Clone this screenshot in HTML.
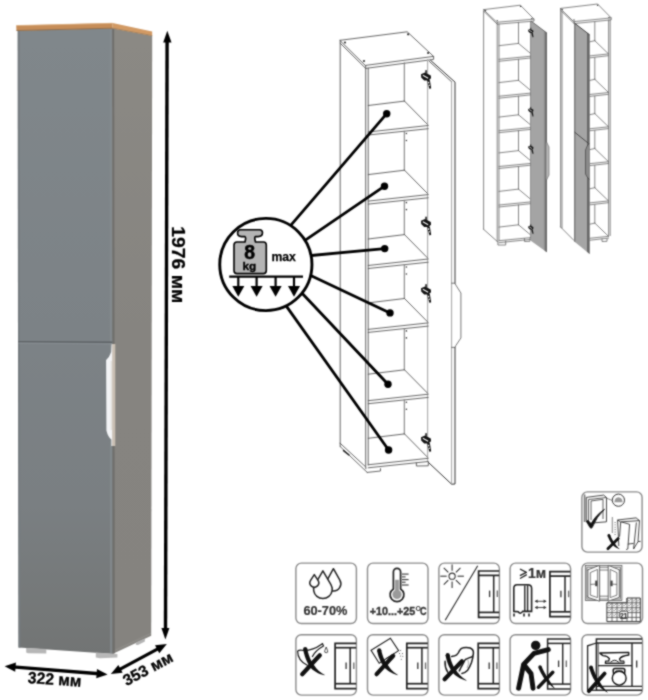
<!DOCTYPE html>
<html><head><meta charset="utf-8">
<style>
html,body{margin:0;padding:0;background:#fff;}
body{width:648px;height:700px;overflow:hidden;position:relative;font-family:"Liberation Sans",sans-serif;}
svg{position:absolute;left:0;top:0;display:block;will-change:transform;}
svg text{font-family:"Liberation Sans",sans-serif;}
</style></head>
<body>
<svg width="648" height="700" viewBox="0 0 648 700">
<defs><filter id="soft" filterUnits="userSpaceOnUse" x="0" y="0" width="648" height="700" color-interpolation-filters="sRGB"><feConvolveMatrix order="3" kernelMatrix="1 2 1 2 8 2 1 2 1" divisor="20" edgeMode="duplicate"/></filter></defs>
<g filter="url(#soft)">
<rect x="0" y="0" width="648" height="700" fill="#fff"/>
<!-- ===== MAIN GRAY CABINET ===== -->
<g id="cab">
  <defs>
    <linearGradient id="gf" x1="0" y1="0" x2="0" y2="1">
      <stop offset="0" stop-color="#80878b"/>
      <stop offset="0.5" stop-color="#7c8286"/>
      <stop offset="0.76" stop-color="#7a7f82"/>
      <stop offset="0.95" stop-color="#747777"/>
      <stop offset="1" stop-color="#727474"/>
    </linearGradient>
    <linearGradient id="gs" x1="0" y1="0" x2="0" y2="1">
      <stop offset="0" stop-color="#8b8984"/>
      <stop offset="0.5" stop-color="#868480"/>
      <stop offset="1" stop-color="#85837f"/>
    </linearGradient>
  </defs>
  <polygon points="17.5,30.6 112.3,28.3 113.6,654 18.5,647.6" fill="url(#gf)"/>
  <polygon points="112.3,28.3 152.2,35.8 151.2,635.8 113.6,653.6" fill="url(#gs)"/>
  <line x1="114.6" y1="650.6" x2="151" y2="633.4" stroke="#959490" stroke-width="0.8"/>
  <polygon points="109.6,28.4 112.1,28.3 112.4,654 110,653.8" fill="#848b8f" opacity="0.8"/>
  <polygon points="112.1,28.3 114.2,28.7 114.8,653.2 112.6,654" fill="#6f6e6b"/>
  <polygon points="18,30.6 19.6,30.6 20.4,647.7 18.5,647.6" fill="#767c80"/>
  <polygon points="16.2,25.4 112.6,23.1 112.6,28.4 16.5,30.8" fill="#c68d58"/>
  <polygon points="112.6,23.1 152.2,31.5 152.2,35.9 112.6,28.4" fill="#d29a64"/>
  <line x1="16.4" y1="25.6" x2="112.6" y2="23.3" stroke="#dcae80" stroke-width="0.8"/>
  <line x1="16.5" y1="30.5" x2="112.6" y2="28.2" stroke="#8d6b4a" stroke-width="0.9"/>
  <line x1="112.6" y1="28.2" x2="152.2" y2="35.6" stroke="#9b7a58" stroke-width="0.7"/>
  <!-- door split -->
  <line x1="18.3" y1="341.6" x2="112.3" y2="342.3" stroke="#5d6265" stroke-width="1.4"/>
  <line x1="18.3" y1="343.2" x2="112.3" y2="343.9" stroke="#8a9195" stroke-width="0.8"/>
  <!-- handle -->
  <rect x="111.9" y="344" width="3.4" height="102" fill="#c9bfb3"/>
  <path d="M111.6,344.2 L112.2,344.2 L112.2,446 L111.4,446 L111.4,439.6 Q108,437 106.4,430.4 L106.1,360.1 Q109.5,357 111.2,352 Z" fill="#f3f4f6"/>
  <path d="M110.6,361 L111.9,361 L111.9,430 L110.6,430 Z" fill="#e2e0dc"/>
  <!-- feet -->
  <polygon points="26.2,647.9 46.3,649.1 46.3,653.6 28,653.2 26.2,652.4" fill="#b6b6b6"/>
  <polygon points="95.8,652.4 117.4,654 117.4,657.5 100,658.3 95.8,657.6" fill="#b8b8b8"/>
  <polygon points="135.8,642.5 144.9,638.6 144.9,641.6 138,645.1 135.8,644.8" fill="#b3b3b3"/>
</g>
<!-- ===== DIMENSION ARROWS ===== -->
<g id="dims" fill="#000">
  <line x1="167.1" y1="40" x2="165.5" y2="630" stroke="#000" stroke-width="3.4"/>
  <polygon points="167.3,30.8 171.5,42.6 163.2,42.6"/>
  <polygon points="165.4,639.6 169.4,627.9 161.4,627.9"/>
  <text transform="translate(171.6,226.2) rotate(90) scale(1.1,1)" font-size="17.6" font-weight="bold" stroke="#000" stroke-width="0.25">1976 мм</text>
  <!-- 322 -->
  <g transform="translate(4.6,666.3) rotate(4.5)">
    <line x1="8" y1="0" x2="95" y2="0" stroke="#000" stroke-width="3.4"/>
    <polygon points="0,0 11,-4.6 11,4.6"/>
    <polygon points="103.3,0 92.3,-4.6 92.3,4.6"/>
  </g>
  <text transform="translate(27.6,683.0) rotate(4)" font-size="16.2" font-weight="bold" stroke="#000" stroke-width="0.3" textLength="53.5" lengthAdjust="spacingAndGlyphs">322 мм</text>
  <!-- 353 -->
  <g transform="translate(110.8,674.1) rotate(-28.2)">
    <line x1="8" y1="0" x2="56" y2="0" stroke="#000" stroke-width="3.2"/>
    <polygon points="0,0 11,-4.5 11,4.5"/>
    <polygon points="63.6,0 52.6,-4.5 52.6,4.5"/>
  </g>
  <text transform="translate(126.6,686.2) rotate(-28)" font-size="15.8" font-weight="bold" stroke="#000" stroke-width="0.3">353 мм</text>
</g>
<!-- CENTER START -->
<g stroke="#555" stroke-width="0.9" fill="none" stroke-linejoin="round" stroke-linecap="round">
<polygon points="340.2,40.3 407.2,31.8 433.6,56.4 365.7,65.4" />
<polyline points="365.7,65.4 365.7,68.4 433.6,59.4 433.6,56.4" />
<polyline points="340.2,40.3 340.2,43.2 365.7,68.4" />
<line x1="340.2" y1="43.2" x2="340.2" y2="443.3" />
<line x1="365.7" y1="68.4" x2="365.7" y2="466.0" />
<line x1="368.2" y1="68.1" x2="368.2" y2="465.0" />
<line x1="340.2" y1="443.3" x2="365.8" y2="467.0" />
<line x1="340.2" y1="443.3" x2="340.2" y2="446.6" />
<line x1="340.2" y1="446.6" x2="367.2" y2="472.4" />
<line x1="343.5" y1="450.6" x2="348.9" y2="454.9" stroke="#222" stroke-width="1.4"/>
<line x1="427.6" y1="59.6" x2="427.6" y2="461.0" stroke="#aaa" stroke-width="1.1"/>
<line x1="404.3" y1="62.8" x2="404.3" y2="101.1" stroke="#777" stroke-width="1.0"/>
<line x1="368.2" y1="105.5" x2="404.5" y2="101.1" />
<line x1="404.5" y1="101.1" x2="427.2" y2="124.1" />
<line x1="368.2" y1="132.0" x2="428.2" y2="125.5" />
<line x1="368.2" y1="135.0" x2="428.2" y2="128.7" />
<line x1="404.3" y1="131.2" x2="404.3" y2="170.2" stroke="#777" stroke-width="1.0"/>
<line x1="368.2" y1="174.6" x2="404.5" y2="170.2" />
<line x1="404.5" y1="170.2" x2="427.2" y2="193.2" />
<line x1="368.2" y1="201.1" x2="428.2" y2="194.6" />
<line x1="368.2" y1="204.1" x2="428.2" y2="197.8" />
<line x1="404.3" y1="200.3" x2="404.3" y2="234.6" stroke="#777" stroke-width="1.0"/>
<line x1="368.2" y1="239.0" x2="404.5" y2="234.6" />
<line x1="404.5" y1="234.6" x2="427.2" y2="257.6" />
<line x1="368.2" y1="265.5" x2="428.2" y2="259.0" />
<line x1="368.2" y1="268.5" x2="428.2" y2="262.2" />
<line x1="404.3" y1="264.7" x2="404.3" y2="298.5" stroke="#777" stroke-width="1.0"/>
<line x1="368.2" y1="302.9" x2="404.5" y2="298.5" />
<line x1="404.5" y1="298.5" x2="427.2" y2="321.5" />
<line x1="368.2" y1="329.4" x2="428.2" y2="322.9" />
<line x1="368.2" y1="332.4" x2="428.2" y2="326.1" />
<line x1="404.3" y1="328.6" x2="404.3" y2="369.8" stroke="#777" stroke-width="1.0"/>
<line x1="368.2" y1="374.2" x2="404.5" y2="369.8" />
<line x1="404.5" y1="369.8" x2="427.2" y2="392.8" />
<line x1="368.2" y1="400.7" x2="428.2" y2="394.2" />
<line x1="368.2" y1="403.7" x2="428.2" y2="397.4" />
<line x1="404.3" y1="399.9" x2="404.3" y2="433.9" stroke="#777" stroke-width="1.0"/>
<line x1="368.2" y1="438.3" x2="404.5" y2="433.9" />
<line x1="404.5" y1="433.9" x2="427.2" y2="456.9" />
<line x1="368.2" y1="464.8" x2="428.2" y2="458.3" />
<line x1="368.2" y1="467.8" x2="428.2" y2="461.5" />
<polyline points="367.2,472.4 380.5,471.0 380.5,468.6" />
<line x1="365.8" y1="467.0" x2="365.8" y2="468.8" />
<polyline points="416.4,462.8 416.4,466.0 428.3,465.8 428.3,462.0" />
<polyline points="455.0,283.2 455.0,82.1 430.7,60.4" stroke="#333" stroke-width="1.0"/>
<polyline points="455.0,347.4 455.0,484.0 451.6,484.2 428.6,462.6" stroke="#333" stroke-width="1.0"/>
<line x1="429.3" y1="61.4" x2="451.6" y2="81.8" />
<line x1="451.6" y1="81.8" x2="451.6" y2="484.0" stroke="#999" stroke-width="0.9"/>
<polyline points="451.6,283.2 455.0,283.2 455.8,285.0 460.9,293.0 460.9,338.0 455.8,345.6 455.0,347.4 451.6,347.4" stroke="#555" stroke-width="0.8"/>
</g>
<g transform="translate(421,70)"><rect x="4.3" y="0.2" width="1.5" height="3.5" fill="#111"/><polygon points="0,4.2 4,2.6 9.8,5.4 10,8.2 7.4,10.6 3.2,10.4 0.2,7.4" fill="#111"/><polygon points="6.2,10 8.8,10 10.2,18.2 8.6,19 6.8,14" fill="#111"/><line x1="1.8" y1="5.2" x2="7.2" y2="8.2" stroke="#fff" stroke-width="1.1"/><rect x="6.9" y="11.8" width="1.3" height="1.6" fill="#fff"/><rect x="7.6" y="14.6" width="1.2" height="1.4" fill="#fff"/></g>
<g transform="translate(421,216.5)"><rect x="4.3" y="0.2" width="1.5" height="3.5" fill="#111"/><polygon points="0,4.2 4,2.6 9.8,5.4 10,8.2 7.4,10.6 3.2,10.4 0.2,7.4" fill="#111"/><polygon points="6.2,10 8.8,10 10.2,18.2 8.6,19 6.8,14" fill="#111"/><line x1="1.8" y1="5.2" x2="7.2" y2="8.2" stroke="#fff" stroke-width="1.1"/><rect x="6.9" y="11.8" width="1.3" height="1.6" fill="#fff"/><rect x="7.6" y="14.6" width="1.2" height="1.4" fill="#fff"/></g>
<g transform="translate(421,284)"><rect x="4.3" y="0.2" width="1.5" height="3.5" fill="#111"/><polygon points="0,4.2 4,2.6 9.8,5.4 10,8.2 7.4,10.6 3.2,10.4 0.2,7.4" fill="#111"/><polygon points="6.2,10 8.8,10 10.2,18.2 8.6,19 6.8,14" fill="#111"/><line x1="1.8" y1="5.2" x2="7.2" y2="8.2" stroke="#fff" stroke-width="1.1"/><rect x="6.9" y="11.8" width="1.3" height="1.6" fill="#fff"/><rect x="7.6" y="14.6" width="1.2" height="1.4" fill="#fff"/></g>
<g transform="translate(421,433)"><rect x="4.3" y="0.2" width="1.5" height="3.5" fill="#111"/><polygon points="0,4.2 4,2.6 9.8,5.4 10,8.2 7.4,10.6 3.2,10.4 0.2,7.4" fill="#111"/><polygon points="6.2,10 8.8,10 10.2,18.2 8.6,19 6.8,14" fill="#111"/><line x1="1.8" y1="5.2" x2="7.2" y2="8.2" stroke="#fff" stroke-width="1.1"/><rect x="6.9" y="11.8" width="1.3" height="1.6" fill="#fff"/><rect x="7.6" y="14.6" width="1.2" height="1.4" fill="#fff"/></g>
<circle cx="406.4" cy="133.5" r="0.8" fill="#333"/>
<circle cx="406.4" cy="140.5" r="0.8" fill="#333"/>
<circle cx="406.4" cy="202.6" r="0.8" fill="#333"/>
<circle cx="406.4" cy="209.6" r="0.8" fill="#333"/>
<circle cx="406.4" cy="267.0" r="0.8" fill="#333"/>
<circle cx="406.4" cy="274.0" r="0.8" fill="#333"/>
<circle cx="406.4" cy="330.9" r="0.8" fill="#333"/>
<circle cx="406.4" cy="337.9" r="0.8" fill="#333"/>
<circle cx="406.4" cy="402.2" r="0.8" fill="#333"/>
<circle cx="406.4" cy="409.2" r="0.8" fill="#333"/>
<circle cx="345" cy="42.5" r="1.1" fill="#333"/>
<circle cx="408.1" cy="34.3" r="1.1" fill="#333"/>
<circle cx="428.1" cy="53" r="1.1" fill="#333"/>
<circle cx="364" cy="61" r="1.1" fill="#333"/>

<!-- pointer lines -->
<g stroke="#000" stroke-width="2.8" stroke-linecap="round">
  <line x1="287.5" y1="229.2" x2="386.7" y2="113.7"/>
  <line x1="301.3" y1="242.8" x2="384.5" y2="186.2"/>
  <line x1="306.0" y1="256.0" x2="384.7" y2="248.6"/>
  <line x1="307.5" y1="274.0" x2="390" y2="312.9"/>
  <line x1="300.2" y1="291.3" x2="388" y2="384.3"/>
  <line x1="283.5" y1="302.1" x2="388.6" y2="450"/>
</g>
<g fill="#000">
  <circle cx="386.7" cy="113.7" r="3.7"/>
  <circle cx="384.5" cy="186.2" r="3.7"/>
  <circle cx="384.7" cy="248.6" r="3.7"/>
  <circle cx="390" cy="312.9" r="3.7"/>
  <circle cx="388" cy="384.3" r="3.7"/>
  <circle cx="388.6" cy="450" r="3.7"/>
</g>
<!-- weight circle -->
<circle cx="265.85" cy="264.5" r="46.1" fill="#fff" stroke="#000" stroke-width="2.9"/>
<path d="M240.5,229.8 L259.5,229.8 Q262.5,229.8 262.5,232.8 Q262.5,236.6 258,236.6 L255.5,236.6 Q254.5,237 254.8,239 L255.5,242 L263.5,242 Q266.3,242 266.3,245 L266.3,270.5 Q266.3,273.6 263.3,273.6 L237,273.6 Q234,273.6 234,270.5 L234,245 Q234,242 237,242 L245,242 L245.6,239 Q245.8,237 244.8,236.6 L241.5,236.6 Q237.6,236.6 237.6,233 Q237.6,229.8 240.5,229.8 Z" fill="#b4b4b4" stroke="#000" stroke-width="1.6" stroke-linejoin="round"/>
<text x="249.6" y="259.2" font-size="19.4" font-weight="bold" text-anchor="middle" stroke="#000" stroke-width="0.5">8</text>
<text x="249.4" y="270.4" font-size="11.8" font-weight="bold" text-anchor="middle" stroke="#000" stroke-width="0.35">kg</text>
<text x="271.4" y="260.8" font-size="12.2" font-weight="bold" stroke="#000" stroke-width="0.25">max</text>
<line x1="229.2" y1="276.6" x2="303" y2="276.6" stroke="#000" stroke-width="2.4"/>
<g stroke="#000" stroke-width="2.2">
  <line x1="238.3" y1="276.6" x2="238.3" y2="287"/>
  <line x1="256.6" y1="276.6" x2="256.6" y2="287"/>
  <line x1="275.6" y1="276.6" x2="275.6" y2="287"/>
  <line x1="294" y1="276.6" x2="294" y2="287"/>
</g>
<g fill="#000">
  <polygon points="232.3,286 244.3,286 238.3,296.8"/>
  <polygon points="250.6,286 262.6,286 256.6,296.8"/>
  <polygon points="269.6,286 281.6,286 275.6,296.8"/>
  <polygon points="288,286 300,286 294,296.8"/>
</g>

<!-- CENTER END -->
<!-- SMALL START -->
<g stroke="#666" stroke-width="0.8" fill="none" stroke-linejoin="round" stroke-linecap="round">
<polygon points="483.9,9.6 520.4,5.2 534.0,19.1 497.2,22.2" />
<polyline points="497.2,22.2 497.2,24.2 534.0,21.1 534.0,19.1" />
<polyline points="483.9,9.6 483.9,11.4 497.2,24.2" />
<line x1="483.6" y1="11.4" x2="483.6" y2="229.3" />
<line x1="497.2" y1="24.2" x2="497.2" y2="241.4" />
<line x1="499.0" y1="24.0" x2="499.0" y2="240.5" />
<line x1="483.6" y1="229.3" x2="497.2" y2="241.4" />
<line x1="530.6" y1="21.3" x2="530.6" y2="238.0" />
<line x1="518.5" y1="22.3" x2="518.5" y2="43.4" />
<line x1="499.0" y1="45.7" x2="518.5" y2="43.4" />
<line x1="518.5" y1="43.4" x2="530.0" y2="53.0" />
<line x1="499.0" y1="59.3" x2="530.6" y2="56.2" />
<line x1="499.0" y1="61.3" x2="530.6" y2="58.0" />
<line x1="518.5" y1="59.3" x2="518.5" y2="80.3" />
<line x1="499.0" y1="82.6" x2="518.5" y2="80.3" />
<line x1="518.5" y1="80.3" x2="530.0" y2="89.9" />
<line x1="499.0" y1="96.2" x2="530.6" y2="93.1" />
<line x1="499.0" y1="98.2" x2="530.6" y2="94.9" />
<line x1="518.5" y1="96.2" x2="518.5" y2="114.8" />
<line x1="499.0" y1="117.1" x2="518.5" y2="114.8" />
<line x1="518.5" y1="114.8" x2="530.0" y2="124.4" />
<line x1="499.0" y1="130.7" x2="530.6" y2="127.6" />
<line x1="499.0" y1="132.7" x2="530.6" y2="129.4" />
<line x1="518.5" y1="130.7" x2="518.5" y2="150.6" />
<line x1="499.0" y1="152.9" x2="518.5" y2="150.6" />
<line x1="518.5" y1="150.6" x2="530.0" y2="160.2" />
<line x1="499.0" y1="166.5" x2="530.6" y2="163.4" />
<line x1="499.0" y1="168.5" x2="530.6" y2="165.2" />
<line x1="518.5" y1="166.5" x2="518.5" y2="189.1" />
<line x1="499.0" y1="191.4" x2="518.5" y2="189.1" />
<line x1="518.5" y1="189.1" x2="530.0" y2="198.7" />
<line x1="499.0" y1="205.0" x2="530.6" y2="201.9" />
<line x1="499.0" y1="207.0" x2="530.6" y2="203.7" />
<line x1="518.5" y1="205.0" x2="518.5" y2="224.8" />
<line x1="499.0" y1="227.1" x2="518.5" y2="224.8" />
<line x1="518.5" y1="224.8" x2="530.0" y2="234.4" />
<line x1="499.0" y1="240.7" x2="530.6" y2="237.6" />
<line x1="499.0" y1="242.7" x2="530.6" y2="239.4" />
<polyline points="497.9,241.5 497.9,245.0 505.7,245.0 505.7,241.0" />
<polyline points="524.5,238.5 524.5,241.5 530.0,241.3 530.0,238.2" />
</g>
<polygon points="531.0,21.0 546.9,33.0 546.9,252.2 530.8,240.7" fill="#a4a4a4"/>
<polygon points="543.9,30.8 545.5,32.0 545.5,251.2 543.9,250.1" fill="#8c8c8c"/>
<polygon points="545.4,31.9 546.9,33.0 546.9,252.2 545.4,251.2" fill="#5e5e5e"/>
<line x1="531.0" y1="21.0" x2="546.9" y2="33.0" stroke="#444" stroke-width="0.7"/>
<polyline points="546.4,141.5 547.5,144.0 549.0,147.0 549.0,175.0 547.5,178.0 546.4,180.5" fill="#bdbdbd" stroke="#555" stroke-width="0.6"/>
<g transform="translate(528.2,27.6) scale(0.52)"><rect x="4.3" y="0.2" width="1.5" height="3.5" fill="#111"/><polygon points="0,4.2 4,2.6 9.8,5.4 10,8.2 7.4,10.6 3.2,10.4 0.2,7.4" fill="#111"/><polygon points="6.2,10 8.8,10 10.2,18.2 8.6,19 6.8,14" fill="#111"/><line x1="1.8" y1="5.2" x2="7.2" y2="8.2" stroke="#fff" stroke-width="1.3"/></g>
<g transform="translate(528.2,106.8) scale(0.52)"><rect x="4.3" y="0.2" width="1.5" height="3.5" fill="#111"/><polygon points="0,4.2 4,2.6 9.8,5.4 10,8.2 7.4,10.6 3.2,10.4 0.2,7.4" fill="#111"/><polygon points="6.2,10 8.8,10 10.2,18.2 8.6,19 6.8,14" fill="#111"/><line x1="1.8" y1="5.2" x2="7.2" y2="8.2" stroke="#fff" stroke-width="1.3"/></g>
<g transform="translate(528.2,144.2) scale(0.52)"><rect x="4.3" y="0.2" width="1.5" height="3.5" fill="#111"/><polygon points="0,4.2 4,2.6 9.8,5.4 10,8.2 7.4,10.6 3.2,10.4 0.2,7.4" fill="#111"/><polygon points="6.2,10 8.8,10 10.2,18.2 8.6,19 6.8,14" fill="#111"/><line x1="1.8" y1="5.2" x2="7.2" y2="8.2" stroke="#fff" stroke-width="1.3"/></g>
<g transform="translate(528.2,224.2) scale(0.52)"><rect x="4.3" y="0.2" width="1.5" height="3.5" fill="#111"/><polygon points="0,4.2 4,2.6 9.8,5.4 10,8.2 7.4,10.6 3.2,10.4 0.2,7.4" fill="#111"/><polygon points="6.2,10 8.8,10 10.2,18.2 8.6,19 6.8,14" fill="#111"/><line x1="1.8" y1="5.2" x2="7.2" y2="8.2" stroke="#fff" stroke-width="1.3"/></g>
<circle cx="485.6" cy="10.6" r="0.7" fill="#333"/>
<circle cx="520.6" cy="6.4" r="0.7" fill="#333"/>
<circle cx="531.8" cy="18.6" r="0.7" fill="#333"/>
<circle cx="497.2" cy="20.6" r="0.7" fill="#333"/>
<circle cx="562.2" cy="9.4" r="0.7" fill="#333"/>
<circle cx="597.6" cy="5.2" r="0.7" fill="#333"/>
<circle cx="609" cy="17.4" r="0.7" fill="#333"/>
<circle cx="574" cy="20" r="0.7" fill="#333"/>
<g stroke="#666" stroke-width="0.8" fill="none" stroke-linejoin="round" stroke-linecap="round">
<polygon points="560.6,8.4 597.6,4.0 611.2,17.9 574.1,21.6" />
<polyline points="574.1,21.6 574.1,23.6 611.2,19.9 611.2,17.9" />
<polyline points="560.6,8.4 560.6,10.2 574.1,23.6" />
<line x1="560.6" y1="10.2" x2="560.6" y2="227.0" />
<line x1="562.0" y1="11.5" x2="562.0" y2="228.0" />
<line x1="560.6" y1="227.0" x2="573.9" y2="240.4" />
<line x1="608.6" y1="20.0" x2="608.6" y2="236.0" />
<line x1="610.2" y1="19.9" x2="610.2" y2="235.6" />
<line x1="594.8" y1="22.0" x2="594.8" y2="40.7" />
<line x1="589.3" y1="41.9" x2="594.8" y2="40.7" />
<line x1="594.8" y1="40.7" x2="608.3" y2="53.7" />
<line x1="589.3" y1="55.9" x2="608.6" y2="53.9" />
<line x1="589.3" y1="57.9" x2="608.6" y2="55.7" />
<line x1="594.8" y1="57.7" x2="594.8" y2="79.3" />
<line x1="589.3" y1="80.5" x2="594.8" y2="79.3" />
<line x1="594.8" y1="79.3" x2="608.3" y2="92.3" />
<line x1="589.3" y1="94.5" x2="608.6" y2="92.5" />
<line x1="589.3" y1="96.5" x2="608.6" y2="94.3" />
<line x1="594.8" y1="96.3" x2="594.8" y2="113.6" />
<line x1="589.3" y1="114.8" x2="594.8" y2="113.6" />
<line x1="594.8" y1="113.6" x2="608.3" y2="126.6" />
<line x1="589.3" y1="128.8" x2="608.6" y2="126.8" />
<line x1="589.3" y1="130.8" x2="608.6" y2="128.6" />
<line x1="594.8" y1="130.6" x2="594.8" y2="148.5" />
<line x1="589.3" y1="149.7" x2="594.8" y2="148.5" />
<line x1="594.8" y1="148.5" x2="608.3" y2="161.5" />
<line x1="589.3" y1="163.7" x2="608.6" y2="161.7" />
<line x1="589.3" y1="165.7" x2="608.6" y2="163.5" />
<line x1="594.8" y1="165.5" x2="594.8" y2="187.7" />
<line x1="589.3" y1="188.9" x2="594.8" y2="187.7" />
<line x1="594.8" y1="187.7" x2="608.3" y2="200.7" />
<line x1="589.3" y1="202.9" x2="608.6" y2="200.9" />
<line x1="589.3" y1="204.9" x2="608.6" y2="202.7" />
<line x1="594.8" y1="204.7" x2="594.8" y2="223.1" />
<line x1="589.3" y1="224.3" x2="594.8" y2="223.1" />
<line x1="594.8" y1="223.1" x2="608.3" y2="236.1" />
<line x1="589.3" y1="238.3" x2="608.6" y2="236.3" />
<line x1="589.3" y1="240.3" x2="608.6" y2="238.1" />
<polyline points="602.0,239.0 602.0,241.5 607.0,241.3 607.0,238.8" />
</g>
<polygon points="574.1,22.8 589.6,34.8 589.6,253.9 574.0,241.2" fill="#a5a5a5"/>
<polygon points="574.1,22.8 575.5,23.9 575.4,242.3 574.0,241.2" fill="#7c7c7c"/>
<polygon points="587.0,32.8 589.6,34.8 589.6,253.9 587.0,251.8" fill="#686868"/>
<line x1="574.1" y1="22.8" x2="589.6" y2="34.8" stroke="#333" stroke-width="0.9"/>
<polyline points="574.5,132.1 587.9,142.9" stroke="#222" stroke-width="0.7" fill="none"/>
<polyline points="589.3,143.0 587.2,146.0 585.5,150.0 585.5,174.0 587.2,177.0 589.3,179.5" fill="#8a8a8a" stroke="#333" stroke-width="0.6"/>

<!-- SMALL END -->
<!-- ICONS START -->
<rect x="295.9" y="563.1" width="60.5" height="60.4" rx="5.5" fill="#fff" stroke="#8c8c8c" stroke-width="1.4"/>
<rect x="367.5" y="563.1" width="60.5" height="60.4" rx="5.5" fill="#fff" stroke="#8c8c8c" stroke-width="1.4"/>
<rect x="438.9" y="563.1" width="60.5" height="60.4" rx="5.5" fill="#fff" stroke="#8c8c8c" stroke-width="1.4"/>
<rect x="510.1" y="563.1" width="60.5" height="60.4" rx="5.5" fill="#fff" stroke="#8c8c8c" stroke-width="1.4"/>
<rect x="582.0" y="563.1" width="60.5" height="60.4" rx="5.5" fill="#fff" stroke="#8c8c8c" stroke-width="1.4"/>
<rect x="295.9" y="634.7" width="60.5" height="60.4" rx="5.5" fill="#fff" stroke="#8c8c8c" stroke-width="1.4"/>
<rect x="367.5" y="634.7" width="60.5" height="60.4" rx="5.5" fill="#fff" stroke="#8c8c8c" stroke-width="1.4"/>
<rect x="438.9" y="634.7" width="60.5" height="60.4" rx="5.5" fill="#fff" stroke="#8c8c8c" stroke-width="1.4"/>
<rect x="510.1" y="634.7" width="60.5" height="60.4" rx="5.5" fill="#fff" stroke="#8c8c8c" stroke-width="1.4"/>
<rect x="582.0" y="634.7" width="60.5" height="60.4" rx="5.5" fill="#fff" stroke="#8c8c8c" stroke-width="1.4"/>
<rect x="581.9" y="491.9" width="60.2" height="60.2" rx="5.5" fill="#fff" stroke="#8c8c8c" stroke-width="1.4"/>
<path d="M333.40,568.70 L327.14,580.02 A7.3,7.3 0 1 0 339.86,580.02 Z" fill="#fff" stroke="#222" stroke-width="1.5" stroke-linejoin="round"/>
<path d="M322.90,570.90 L314.88,584.60 A9.3,9.3 0 1 0 330.92,584.60 Z" fill="#fff" stroke="#222" stroke-width="1.5" stroke-linejoin="round"/>
<path d="M314.30,574.60 L310.59,580.44 A4.4,4.4 0 1 0 318.01,580.44 Z" fill="#fff" stroke="#222" stroke-width="1.5" stroke-linejoin="round"/>
<text x="303.4" y="615.2" font-size="12.6" font-family="Liberation Sans" font-weight="bold" fill="#333" stroke="#333" stroke-width="0.2" textLength="44" lengthAdjust="spacingAndGlyphs">60-70%</text>
<path d="M393.4,588.9 L393.4,572.0 A3.6,3.6 0 0 1 400.6,572.0 L400.6,588.9 A6.9,6.9 0 1 1 393.4,588.9 Z" fill="#fff" stroke="#222" stroke-width="1.7"/>
<rect x="395.1" y="579.8" width="3.8" height="12" fill="#9a9a9a"/>
<circle cx="397.0" cy="594.4" r="4.6" fill="#9a9a9a"/>
<line x1="402.0" y1="574.1" x2="408.6" y2="574.1" stroke="#333" stroke-width="1.1"/>
<line x1="402.0" y1="576.9" x2="405.6" y2="576.9" stroke="#333" stroke-width="1.1"/>
<line x1="402.0" y1="579.6" x2="408.6" y2="579.6" stroke="#333" stroke-width="1.1"/>
<line x1="402.0" y1="582.2" x2="405.6" y2="582.2" stroke="#333" stroke-width="1.1"/>
<line x1="402.0" y1="585.0" x2="408.6" y2="585.0" stroke="#333" stroke-width="1.1"/>
<text x="369.8" y="614.5" font-size="10.8" font-family="Liberation Sans" font-weight="bold" fill="#333" stroke="#333" stroke-width="0.35" textLength="45.5" lengthAdjust="spacingAndGlyphs">+10...+25</text>
<text x="415.4" y="610.8" font-size="7" font-family="Liberation Sans" font-weight="bold" fill="#333">O</text>
<text x="420.0" y="614.5" font-size="11.2" font-family="Liberation Sans" font-weight="bold" fill="#333" stroke="#333" stroke-width="0.35" textLength="6.6" lengthAdjust="spacingAndGlyphs">C</text>
<circle cx="452.1" cy="576.2" r="3.1" fill="none" stroke="#333" stroke-width="1.1"/>
<line x1="457.50" y1="576.20" x2="463.90" y2="576.20" stroke="#333" stroke-width="1.1"/>
<line x1="455.92" y1="580.02" x2="460.44" y2="584.54" stroke="#333" stroke-width="1.1"/>
<line x1="452.10" y1="581.60" x2="452.10" y2="588.00" stroke="#333" stroke-width="1.1"/>
<line x1="448.28" y1="580.02" x2="443.76" y2="584.54" stroke="#333" stroke-width="1.1"/>
<line x1="446.70" y1="576.20" x2="440.30" y2="576.20" stroke="#333" stroke-width="1.1"/>
<line x1="448.28" y1="572.38" x2="443.76" y2="567.86" stroke="#333" stroke-width="1.1"/>
<line x1="452.10" y1="570.80" x2="452.10" y2="564.40" stroke="#333" stroke-width="1.1"/>
<line x1="455.92" y1="572.38" x2="460.44" y2="567.86" stroke="#333" stroke-width="1.1"/>
<line x1="477.7" y1="565.7" x2="445.2" y2="620.2" stroke="#333" stroke-width="1.2"/>
<path d="M499.2,571.0 L478.6,571.0 L478.6,617.3 L499.2,617.3" fill="none" stroke="#222" stroke-width="1.7"/>
<line x1="478.6" y1="575.4" x2="499.2" y2="575.4" stroke="#222" stroke-width="1.7"/>
<line x1="478.6" y1="612.4" x2="499.2" y2="612.4" stroke="#222" stroke-width="1.7"/>
<line x1="493.7" y1="575.4" x2="493.7" y2="612.4" stroke="#222" stroke-width="1.5"/>
<line x1="489.6" y1="590.6" x2="489.6" y2="597.1" stroke="#333" stroke-width="1.3"/>
<line x1="497.3" y1="590.6" x2="497.3" y2="597.1" stroke="#666" stroke-width="1.3"/>
<path d="M520.4,569.2 L526.4,572.4 L520.4,575.4 M520.4,578.2 L526.4,574.9" fill="none" stroke="#222" stroke-width="1.3" stroke-linecap="round" stroke-linejoin="round"/>
<text x="527.9" y="578.1" font-size="14" font-family="Liberation Sans" font-weight="bold" fill="#333" fill="#222" stroke="#222" stroke-width="0.2">1м</text>
<path d="M513.8,611.4 L513.8,588.3 Q513.8,584.8 517.2,584.8 L527.7,584.8 Q531.6,584.8 531.6,588.3 L531.6,611.4 L522.7,611.4 Q520.2,614.8 518.2,611.8 Z" fill="#fff" stroke="#222" stroke-width="1.6"/>
<line x1="524.8" y1="585.6" x2="524.8" y2="611.4" stroke="#222" stroke-width="1.4"/>
<line x1="527.6" y1="585.2" x2="527.6" y2="611.4" stroke="#222" stroke-width="1.4"/>
<line x1="514.0" y1="613.4" x2="514.0" y2="616.4" stroke="#222" stroke-width="1.6"/>
<line x1="524.0" y1="613.4" x2="524.0" y2="616.4" stroke="#222" stroke-width="1.6"/>
<line x1="529.0" y1="613.4" x2="529.0" y2="616.4" stroke="#222" stroke-width="1.6"/>
<line x1="535.6" y1="601.3" x2="545.6" y2="601.3" stroke="#333" stroke-width="0.9"/>
<polygon points="534.6,601.3 537.6,599.5 537.6,603.1" fill="#333"/>
<polygon points="546.6,601.3 543.6,599.5 543.6,603.1" fill="#333"/>
<line x1="535.6" y1="607.5" x2="545.6" y2="607.5" stroke="#333" stroke-width="0.9"/>
<polygon points="534.6,607.5 537.6,605.7 537.6,609.3" fill="#333"/>
<polygon points="546.6,607.5 543.6,605.7 543.6,609.3" fill="#333"/>
<path d="M570.4,571.7 L549.9,571.7 L549.9,616.7 L570.4,616.7" fill="none" stroke="#222" stroke-width="1.7"/>
<line x1="549.9" y1="576.1" x2="570.4" y2="576.1" stroke="#222" stroke-width="1.7"/>
<line x1="549.9" y1="611.8" x2="570.4" y2="611.8" stroke="#222" stroke-width="1.7"/>
<line x1="565.0" y1="576.1" x2="565.0" y2="611.8" stroke="#222" stroke-width="1.5"/>
<line x1="560.9" y1="590.7" x2="560.9" y2="597.2" stroke="#333" stroke-width="1.3"/>
<line x1="568.6" y1="590.7" x2="568.6" y2="597.2" stroke="#666" stroke-width="1.3"/>
<rect x="585.3" y="565.6" width="36.6" height="35.0" stroke="#555" stroke-width="0.8" fill="none"/>
<rect x="586.9" y="567.2" width="33.4" height="31.8" stroke="#555" stroke-width="0.8" fill="none"/>
<line x1="586.9" y1="570.0" x2="620.3" y2="570.0" stroke="#555" stroke-width="0.8" fill="none"/>
<line x1="586.9" y1="596.2" x2="620.3" y2="596.2" stroke="#555" stroke-width="0.8" fill="none"/>
<polygon points="587.9,569.8 599.6,565.3 599.6,601.2 587.9,597.4" fill="#fff" stroke="#555" stroke-width="0.9"/>
<polygon points="590.3,572.6 597.6,569.4 597.6,597.6 590.3,595.2" stroke="#555" stroke-width="0.8" fill="none"/>
<polygon points="619.3,569.8 608.2,565.3 608.2,601.2 619.3,597.4" fill="#fff" stroke="#555" stroke-width="0.9"/>
<polygon points="616.9,572.6 610.2,569.4 610.2,597.6 616.9,595.2" stroke="#555" stroke-width="0.8" fill="none"/>
<line x1="590.3" y1="584.4" x2="597.6" y2="584.0" stroke="#555" stroke-width="0.8" fill="none"/>
<line x1="616.9" y1="584.4" x2="610.2" y2="584.0" stroke="#555" stroke-width="0.8" fill="none"/>
<rect x="595.2" y="580.6" width="2.2" height="5.6" fill="#444"/>
<rect x="610.4" y="580.6" width="2.2" height="5.6" fill="#444"/>
<path d="M606.9,602.8 L627.0,602.8 L627.0,598.0 L640.3,598.0 L640.3,621.6 L606.9,621.6 Z" fill="#fff" stroke="#333" stroke-width="1.0"/>
<line x1="612.0" y1="602.8" x2="612.0" y2="621.6" stroke="#444" stroke-width="0.8"/>
<line x1="617.0" y1="602.8" x2="617.0" y2="621.6" stroke="#444" stroke-width="0.8"/>
<line x1="622.0" y1="602.8" x2="622.0" y2="621.6" stroke="#444" stroke-width="0.8"/>
<line x1="627.0" y1="598.0" x2="627.0" y2="621.6" stroke="#444" stroke-width="0.8"/>
<line x1="632.0" y1="598.0" x2="632.0" y2="621.6" stroke="#444" stroke-width="0.8"/>
<line x1="636.2" y1="598.0" x2="636.2" y2="621.6" stroke="#444" stroke-width="0.8"/>
<line x1="606.9" y1="602.8" x2="640.3" y2="602.8" stroke="#444" stroke-width="0.8"/>
<line x1="606.9" y1="607.7" x2="640.3" y2="607.7" stroke="#444" stroke-width="0.8"/>
<line x1="606.9" y1="612.6" x2="640.3" y2="612.6" stroke="#444" stroke-width="0.8"/>
<line x1="606.9" y1="617.4" x2="640.3" y2="617.4" stroke="#444" stroke-width="0.8"/>
<path d="M607.9,604.6 l1.1,1.3 l2.1,-1.9" stroke="#777" stroke-width="0.7" fill="none"/>
<path d="M607.9,609.6 l1.1,1.3 l2.1,-1.9" stroke="#777" stroke-width="0.7" fill="none"/>
<path d="M607.9,614.4 l1.1,1.3 l2.1,-1.9" stroke="#777" stroke-width="0.7" fill="none"/>
<path d="M612.9,604.6 l1.1,1.3 l2.1,-1.9" stroke="#777" stroke-width="0.7" fill="none"/>
<path d="M612.9,609.6 l1.1,1.3 l2.1,-1.9" stroke="#777" stroke-width="0.7" fill="none"/>
<path d="M612.9,614.4 l1.1,1.3 l2.1,-1.9" stroke="#777" stroke-width="0.7" fill="none"/>
<path d="M617.9,604.6 l1.1,1.3 l2.1,-1.9" stroke="#777" stroke-width="0.7" fill="none"/>
<path d="M617.9,609.6 l1.1,1.3 l2.1,-1.9" stroke="#777" stroke-width="0.7" fill="none"/>
<path d="M617.9,614.4 l1.1,1.3 l2.1,-1.9" stroke="#777" stroke-width="0.7" fill="none"/>
<path d="M622.9,604.6 l1.1,1.3 l2.1,-1.9" stroke="#777" stroke-width="0.7" fill="none"/>
<path d="M622.9,609.6 l1.1,1.3 l2.1,-1.9" stroke="#777" stroke-width="0.7" fill="none"/>
<path d="M627.9,599.8 l1.1,1.3 l2.1,-1.9" stroke="#777" stroke-width="0.7" fill="none"/>
<path d="M627.9,604.6 l1.1,1.3 l2.1,-1.9" stroke="#777" stroke-width="0.7" fill="none"/>
<path d="M627.9,609.6 l1.1,1.3 l2.1,-1.9" stroke="#777" stroke-width="0.7" fill="none"/>
<path d="M632.5,599.8 l1.1,1.3 l2.1,-1.9" stroke="#777" stroke-width="0.7" fill="none"/>
<path d="M632.5,604.6 l1.1,1.3 l2.1,-1.9" stroke="#777" stroke-width="0.7" fill="none"/>
<path d="M632.5,609.6 l1.1,1.3 l2.1,-1.9" stroke="#777" stroke-width="0.7" fill="none"/>
<path d="M636.6,599.8 l1.1,1.3 l2.1,-1.9" stroke="#777" stroke-width="0.7" fill="none"/>
<path d="M636.6,604.6 l1.1,1.3 l2.1,-1.9" stroke="#777" stroke-width="0.7" fill="none"/>
<path d="M636.6,609.6 l1.1,1.3 l2.1,-1.9" stroke="#777" stroke-width="0.7" fill="none"/>
<rect x="619.8" y="611.2" width="8" height="7.3" rx="1.2" fill="#fff" stroke="#333" stroke-width="0.9"/>
<text x="620.3" y="617.6" font-size="7.2" font-family="Liberation Sans" font-weight="bold" fill="#333" fill="#111" stroke="#111" stroke-width="0.2" textLength="7" lengthAdjust="spacingAndGlyphs">21</text>
<path d="M297.6,651.0 Q299.2,649.5 304.2,650.5 Q313.2,650.5 321.2,644.6 L322.5,643.7 L323.5,646.0 Q315.2,650.5 312.2,657.0 M297.6,651.0 Q297.7,661.0 307.7,665.5" fill="none" stroke="#1a1a1a" stroke-width="1.2"/>
<path d="M326.20,647.00 L324.80,650.66 A1.5,1.5 0 1 0 327.60,650.66 Z" fill="#fff" stroke="#222" stroke-width="0.8"/>
<polygon points="303.14,649.39 303.50,651.17 303.91,652.90 304.36,654.58 304.85,656.20 305.39,657.77 305.96,659.28 306.59,660.75 307.25,662.16 307.96,663.51 308.72,664.82 309.52,666.06 310.37,667.26 311.26,668.39 312.30,669.38 313.39,670.27 314.52,671.10 315.68,671.85 316.87,672.54 318.08,673.16 319.32,673.70 320.59,674.18 321.87,674.60 323.19,674.95 324.52,675.24 324.68,674.76 323.49,674.16 322.35,673.51 321.27,672.82 320.25,672.07 319.28,671.29 318.36,670.46 317.49,669.59 316.68,668.68 315.91,667.73 315.20,666.73 314.50,665.72 313.73,664.74 313.00,663.71 312.30,662.63 311.64,661.49 311.01,660.29 310.42,659.03 309.86,657.72 309.34,656.34 308.85,654.91 308.40,653.42 307.98,651.88 307.60,650.27 307.26,648.61" fill="#111"/><circle cx="305.2" cy="649.0" r="2.10" fill="#111"/><line x1="319.8" y1="655.2" x2="302.2" y2="674.2" stroke="#111" stroke-width="4.2" stroke-linecap="round"/>
<path d="M356.2,643.3 L335.1,643.3 L335.1,688.6 L356.2,688.6" fill="none" stroke="#222" stroke-width="1.7"/>
<line x1="335.1" y1="647.7" x2="356.2" y2="647.7" stroke="#222" stroke-width="1.7"/>
<line x1="335.1" y1="683.7" x2="356.2" y2="683.7" stroke="#222" stroke-width="1.7"/>
<line x1="350.2" y1="647.7" x2="350.2" y2="683.7" stroke="#222" stroke-width="1.5"/>
<line x1="346.1" y1="662.5" x2="346.1" y2="669.0" stroke="#333" stroke-width="1.3"/>
<line x1="353.8" y1="662.5" x2="353.8" y2="669.0" stroke="#666" stroke-width="1.3"/>
<polygon points="371.1,650.3 390.4,638.2 398.6,650.6 379.2,663.2" fill="none" stroke="#222" stroke-width="1.1"/>
<line x1="385.7" y1="658.8" x2="393.8" y2="653.7" stroke="#222" stroke-width="0.9"/>
<circle cx="400.6" cy="650.5" r="0.55" fill="#444"/>
<circle cx="399.6" cy="653.5" r="0.55" fill="#444"/>
<circle cx="402.4" cy="653.6" r="0.55" fill="#444"/>
<circle cx="400.6" cy="656" r="0.55" fill="#444"/>
<circle cx="402.8" cy="656.2" r="0.55" fill="#444"/>
<circle cx="401.3" cy="659.2" r="0.55" fill="#444"/>
<polygon points="377.14,650.79 377.44,652.30 377.80,653.78 378.19,655.23 378.63,656.64 379.12,658.01 379.65,659.35 380.22,660.66 380.84,661.93 381.51,663.16 382.21,664.35 382.97,665.51 383.77,666.63 384.61,667.71 385.60,668.66 386.65,669.54 387.73,670.38 388.84,671.16 389.99,671.89 391.16,672.58 392.37,673.22 393.61,673.81 394.87,674.36 396.17,674.87 397.49,675.33 397.71,674.87 396.56,674.11 395.46,673.33 394.41,672.51 393.42,671.67 392.48,670.79 391.59,669.90 390.75,668.97 389.96,668.02 389.22,667.05 388.53,666.06 387.87,665.06 387.13,664.12 386.44,663.15 385.78,662.14 385.16,661.09 384.58,660.01 384.03,658.89 383.53,657.73 383.05,656.54 382.62,655.31 382.22,654.05 381.87,652.74 381.55,651.40 381.26,650.01" fill="#111"/><circle cx="379.2" cy="650.4" r="2.10" fill="#111"/><line x1="393.2" y1="655.9" x2="376.6" y2="674.2" stroke="#111" stroke-width="4.2" stroke-linecap="round"/>
<path d="M427.8,643.3 L406.8,643.3 L406.8,688.6 L427.8,688.6" fill="none" stroke="#222" stroke-width="1.7"/>
<line x1="406.8" y1="647.7" x2="427.8" y2="647.7" stroke="#222" stroke-width="1.7"/>
<line x1="406.8" y1="683.7" x2="427.8" y2="683.7" stroke="#222" stroke-width="1.7"/>
<line x1="421.9" y1="647.7" x2="421.9" y2="683.7" stroke="#222" stroke-width="1.5"/>
<line x1="417.8" y1="662.5" x2="417.8" y2="669.0" stroke="#333" stroke-width="1.3"/>
<line x1="425.5" y1="662.5" x2="425.5" y2="669.0" stroke="#666" stroke-width="1.3"/>
<path d="M451.6,656.4 Q455,656 456.7,654.8 Q458.5,653 459.3,650.9 Q461,648 463.2,647.7 Q467,647 470.2,648 Q473.6,649.5 473.4,652.9 Q473.4,655.5 472.2,656.7 Q469,657.6 465.7,659.3 M473.4,653.5 Q473,658 471.5,662.5 Q469.8,667 467.7,670.2 Q465,673 461.9,673.4 M465.7,659.3 Q464.6,660 464.4,661.2 Q463,664 461.2,667 Q460.2,669 459.3,670.9 M445.1,661.2 Q444.6,667 447.7,672.2" fill="none" stroke="#1a1a1a" stroke-width="1.5" stroke-linecap="round"/>
<path d="M468,660 Q469.5,664 467,668" fill="none" stroke="#999" stroke-width="0.8"/>
<polygon points="445.63,655.56 445.94,657.17 446.29,658.74 446.69,660.27 447.13,661.76 447.62,663.21 448.16,664.61 448.74,665.98 449.37,667.30 450.04,668.59 450.76,669.82 451.52,671.02 452.34,672.17 453.19,673.28 454.20,674.25 455.27,675.15 456.37,675.99 457.51,676.77 458.67,677.49 459.87,678.16 461.10,678.78 462.36,679.35 463.64,679.86 464.96,680.32 466.30,680.73 466.50,680.27 465.32,679.55 464.19,678.80 463.12,678.02 462.11,677.20 461.15,676.35 460.24,675.47 459.38,674.56 458.58,673.61 457.83,672.64 457.13,671.64 456.46,670.63 455.71,669.68 455.01,668.68 454.34,667.64 453.71,666.55 453.12,665.43 452.57,664.26 452.05,663.05 451.58,661.79 451.14,660.49 450.74,659.14 450.37,657.75 450.05,656.32 449.77,654.84" fill="#111"/><circle cx="447.7" cy="655.2" r="2.10" fill="#111"/><line x1="461.9" y1="661.2" x2="444.6" y2="679.2" stroke="#111" stroke-width="4.2" stroke-linecap="round"/>
<path d="M499.2,643.3 L478.2,643.3 L478.2,688.6 L499.2,688.6" fill="none" stroke="#222" stroke-width="1.7"/>
<line x1="478.2" y1="647.7" x2="499.2" y2="647.7" stroke="#222" stroke-width="1.7"/>
<line x1="478.2" y1="683.7" x2="499.2" y2="683.7" stroke="#222" stroke-width="1.7"/>
<line x1="493.3" y1="647.7" x2="493.3" y2="683.7" stroke="#222" stroke-width="1.5"/>
<line x1="489.2" y1="662.5" x2="489.2" y2="669.0" stroke="#333" stroke-width="1.3"/>
<line x1="496.9" y1="662.5" x2="496.9" y2="669.0" stroke="#666" stroke-width="1.3"/>
<path d="M570.4,639.0 L547.6,639.0 L547.6,689.0 L570.4,689.0" fill="none" stroke="#222" stroke-width="1.5"/>
<line x1="547.6" y1="643.4" x2="570.4" y2="643.4" stroke="#222" stroke-width="1.5"/>
<line x1="547.6" y1="684.1" x2="570.4" y2="684.1" stroke="#222" stroke-width="1.5"/>
<line x1="562.7" y1="643.4" x2="562.7" y2="684.1" stroke="#222" stroke-width="1.4"/>
<line x1="558.6" y1="660.5" x2="558.6" y2="667.0" stroke="#333" stroke-width="1.3"/>
<line x1="566.3" y1="660.5" x2="566.3" y2="667.0" stroke="#666" stroke-width="1.3"/>
<circle cx="535.7" cy="645.4" r="4.7" fill="#111"/>
<path d="M548.3,649.6 L534,653.4 L523.6,664.4 L518.6,688.2 M523.6,664.4 L531,673.6 L533,688.2" fill="none" stroke="#111" stroke-width="4.9" stroke-linecap="round" stroke-linejoin="round"/>
<polygon points="538.43,667.65 538.87,668.68 539.32,669.69 539.79,670.69 540.27,671.69 540.77,672.67 541.29,673.65 541.83,674.61 542.38,675.57 542.95,676.52 543.53,677.46 544.13,678.39 544.75,679.31 545.38,680.22 546.12,681.05 546.89,681.86 547.68,682.66 548.48,683.44 549.30,684.20 550.12,684.96 550.96,685.70 551.82,686.43 552.68,687.15 553.56,687.85 554.46,688.55 554.74,688.25 554.05,687.37 553.38,686.48 552.73,685.59 552.09,684.69 551.48,683.78 550.88,682.87 550.30,681.96 549.74,681.03 549.20,680.11 548.68,679.18 548.15,678.26 547.55,677.39 546.97,676.52 546.40,675.64 545.85,674.75 545.31,673.85 544.79,672.94 544.28,672.03 543.79,671.10 543.32,670.17 542.86,669.23 542.41,668.28 541.98,667.32 541.57,666.35" fill="#111"/><circle cx="540" cy="667" r="1.70" fill="#111"/><line x1="552.8" y1="672.2" x2="538.4" y2="687.2" stroke="#111" stroke-width="3.4" stroke-linecap="round"/>
<path d="M642.0,639.1 L596.4,639.1 L596.4,690.3 L642.0,690.3" stroke="#222" fill="none" stroke-width="1.5"/>
<line x1="596.4" y1="643" x2="642" y2="643" stroke="#222" fill="none" stroke-width="1.4"/>
<line x1="596.4" y1="686.4" x2="642" y2="686.4" stroke="#222" fill="none" stroke-width="1.4"/>
<line x1="598" y1="665.6" x2="632" y2="665.6" stroke="#222" fill="none" stroke-width="1.3"/>
<line x1="632" y1="643" x2="632" y2="686.4" stroke="#222" fill="none" stroke-width="1.4"/>
<line x1="598.2" y1="643" x2="598.2" y2="686.4" stroke="#222" fill="none" stroke-width="0.8"/>
<line x1="636.7" y1="660.5" x2="636.7" y2="667.5" stroke="#222" fill="none" stroke-width="1.2"/>
<path d="M596.4,643 L587.6,645.8 L587.6,690 L596.4,690.3" stroke="#222" fill="none" stroke-width="1.3"/>
<path d="M599.8,653 L628.8,652.4 L628.8,655 Q621,656 619.5,659 L620.5,661.2 L623.8,661.2 L624,663.4 L605.4,663.4 L605.6,661.2 L608.6,661.2 L609.4,658.6 Q607.5,656 603,655.6 Q601,654.6 599.8,653 Z" fill="#fff" stroke="#111" stroke-width="1.3" stroke-linejoin="round"/>
<path d="M606,661.6 L623.4,661.6 L623.4,663 L606,663 Z" fill="#999"/>
<path d="M610.8,662.2 Q614.6,658.4 618.6,662.2" fill="#fff" stroke="#111" stroke-width="1.0"/>
<circle cx="619.2" cy="678.2" r="6.9" fill="#fff" stroke="#111" stroke-width="1.4"/>
<path d="M613.6,674 L613.2,670.4 Q613.2,668.6 615,668.6 L623.2,668.6 Q625,668.6 624.8,670.4 L624.6,674" fill="none" stroke="#111" stroke-width="1.5"/>
<path d="M615.6,672.6 L615.6,671 L622.6,671 L622.6,672.6" fill="none" stroke="#111" stroke-width="1.0"/>
<polygon points="589.18,667.95 589.62,669.36 590.09,670.74 590.57,672.09 591.09,673.41 591.62,674.71 592.18,675.98 592.77,677.22 593.38,678.43 594.02,679.62 594.67,680.77 595.36,681.90 596.07,683.00 596.80,684.07 597.66,685.04 598.56,685.96 599.48,686.83 600.42,687.68 601.37,688.49 602.35,689.26 603.34,689.99 604.35,690.69 605.37,691.36 606.41,691.99 607.47,692.58 607.73,692.22 606.88,691.38 606.05,690.53 605.26,689.65 604.49,688.75 603.76,687.83 603.05,686.89 602.37,685.93 601.72,684.94 601.10,683.94 600.50,682.91 599.91,681.88 599.23,680.90 598.58,679.89 597.95,678.85 597.34,677.78 596.75,676.68 596.19,675.55 595.64,674.40 595.12,673.21 594.61,672.00 594.13,670.76 593.67,669.48 593.24,668.18 592.82,666.85" fill="#111"/><circle cx="591" cy="667.4" r="1.90" fill="#111"/><line x1="604.6" y1="673.6" x2="588.8" y2="691.2" stroke="#111" stroke-width="3.8" stroke-linecap="round"/>
<line x1="584.6" y1="494.5" x2="584.6" y2="522" stroke="#777" stroke-width="1.6"/>
<path d="M586.3,497.4 L603.7,495.1 L606.5,497.5 L606.5,521.8 L588.5,523.3 L586.3,521.5 Z" fill="#fff" stroke="#333" stroke-width="0.9"/>
<path d="M588.5,499.5 L606.5,497.5 M588.5,499.5 L588.5,523.3 M591,501 L603,499.3 L603,519 M591,501 L591,520" fill="none" stroke="#333" stroke-width="0.8"/>
<line x1="606" y1="498" x2="612.5" y2="500.5" stroke="#555" stroke-width="0.7"/>
<circle cx="618.4" cy="500.2" r="6.1" fill="#fff" stroke="#333" stroke-width="1.0"/>
<path d="M614.3,502.2 Q614.8,497.5 618.4,497.3 Q622.2,497.5 622.6,502.2 Z" fill="#999"/>
<path d="M586.4,521.4 Q587.6,519.6 589,521.2 L591,524.2 Q595,515.6 604.6,509.2 Q596.6,516.4 592.2,527.6 Q591.2,528.8 590,527.6 Z" fill="#111" stroke="#111" stroke-width="0.8" stroke-linejoin="round"/>
<line x1="612.3" y1="517" x2="612.3" y2="533" stroke="#777" stroke-width="0.9"/>
<line x1="615.1" y1="522" x2="615.1" y2="536.5" stroke="#444" stroke-width="1.0" stroke-dasharray="0.9,1.5"/>
<path d="M617.6,520 L636.1,517.9 L639.5,520.6 L620.7,521.9 Z M617.6,520 L618.8,546 M620.7,522 L619.6,536.7 M639.5,520.6 L638,541.6 L633.6,549 M636.4,522.5 L633.6,549 M621.3,521.9 L629.6,524.3 L627.8,549 L626.2,549.6 M627.8,544.1 L633.6,543.4 M638,541.6 L640.6,541.4" fill="none" stroke="#333" stroke-width="0.9" stroke-linejoin="round"/>
<polygon points="607.59,536.00 607.91,536.81 608.24,537.60 608.58,538.37 608.93,539.12 609.30,539.86 609.68,540.58 610.07,541.27 610.47,541.95 610.89,542.61 611.32,543.26 611.76,543.88 612.22,544.48 612.69,545.07 613.24,545.58 613.82,546.04 614.40,546.48 614.99,546.90 615.59,547.29 616.20,547.66 616.81,548.01 617.43,548.33 618.05,548.62 618.68,548.90 619.32,549.15 619.48,548.85 618.98,548.42 618.49,547.97 618.03,547.50 617.57,547.02 617.14,546.53 616.72,546.02 616.32,545.50 615.93,544.96 615.56,544.41 615.21,543.85 614.85,543.29 614.43,542.77 614.02,542.23 613.63,541.67 613.24,541.09 612.86,540.49 612.49,539.87 612.14,539.24 611.79,538.58 611.45,537.90 611.13,537.21 610.81,536.49 610.50,535.76 610.21,535.00" fill="#111"/><circle cx="608.9" cy="535.5" r="1.40" fill="#111"/><line x1="618.2" y1="538.5" x2="607.9" y2="548.8" stroke="#111" stroke-width="2.8" stroke-linecap="round"/>

<!-- ICONS END -->
</g>
</svg>
</body></html>
